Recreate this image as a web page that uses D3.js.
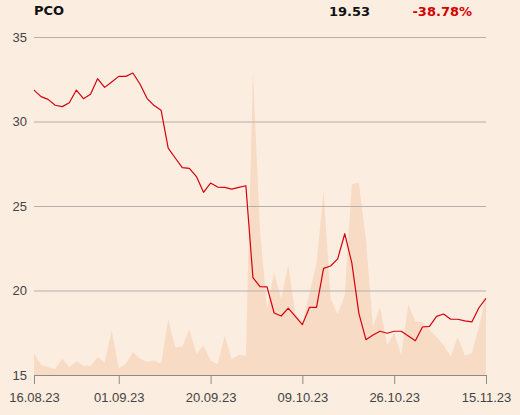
<!DOCTYPE html>
<html><head><meta charset="utf-8">
<script src="https://cdn.jsdelivr.net/npm/d3@7/dist/d3.min.js"></script>
<style>
html,body{margin:0;padding:0;background:#fcede1;}
svg{display:block;font-family:"DejaVu Sans",sans-serif;}
</style></head><body>
<svg id="c" width="520" height="415"></svg>
<script>
const symbol = "PCO";
const lastPrice = "19.53";
const changePct = "-38.78%";
const tickLabels = ["16.08.23","01.09.23","20.09.23","09.10.23","26.10.23","15.11.23"];
const tickIndex = [0,12,25,38,51,64];
const yTicks = [15,20,25,30,35];
const price = [31.86,31.47,31.31,30.96,30.88,31.11,31.86,31.35,31.61,32.53,32.02,32.34,32.67,32.67,32.87,32.22,31.37,30.94,30.66,28.43,27.84,27.27,27.23,26.74,25.81,26.36,26.12,26.10,26.00,26.10,26.20,20.76,20.23,20.21,18.67,18.49,18.96,18.47,17.98,19.00,19.00,21.31,21.45,21.87,23.36,21.63,18.65,17.09,17.37,17.59,17.47,17.59,17.59,17.31,17.03,17.84,17.88,18.47,18.61,18.30,18.30,18.20,18.14,18.98,19.53];
const volume = [6.4,3.0,2.3,1.8,4.9,2.3,4.1,2.7,2.7,5.3,3.8,13.1,2.0,3.3,6.8,4.9,3.9,4.4,3.3,16.5,8.1,8.4,13.5,6.2,8.7,4.4,3.2,11.6,4.7,6.0,5.7,89.6,42.9,19.7,30.4,22.6,32.6,18.3,15.3,24.2,33.0,54.5,22.6,18.0,23.7,56.5,56.9,40.0,14.3,20.2,8.9,12.5,5.9,20.9,15.8,15.6,13.3,11.3,8.9,5.4,11.3,5.8,6.4,14.3,23.2];

const svg = d3.select("#c");
const L=34, R=486, T=37, B=375;
const x = d3.scaleLinear().domain([0, price.length-1]).range([L,R]);
const y = d3.scaleLinear().domain([15,35]).range([B,T]);
const yv = d3.scaleLinear().domain([0,100]).range([B,T]);

// volume area
svg.append("path").datum(volume)
  .attr("fill","#f8dbc5")
  .attr("d", d3.area().x((d,i)=>x(i)).y0(B).y1(d=>yv(d)));

// grid
const yAxis = d3.axisLeft(y).tickValues(yTicks).tickSize(-(R-L)).tickPadding(7);
const gy = svg.append("g").attr("transform",`translate(${L},0)`).call(yAxis);
gy.select(".domain").remove();
gy.selectAll(".tick line").attr("stroke","#b3b0ab").attr("stroke-width",1);
gy.selectAll(".tick text").attr("fill","#444").attr("font-size",13).attr("x",-7).attr("dy","0.32em");
gy.selectAll(".tick").filter(d=>d===15).select("line").remove();

// price line
svg.append("path").datum(price)
  .attr("fill","none").attr("stroke","#d4000c").attr("stroke-width",1.2)
  .attr("stroke-linejoin","round")
  .attr("d", d3.line().x((d,i)=>x(i)).y(d=>y(d)));

// x axis
const xAxis = d3.axisBottom(x).tickValues(tickIndex)
  .tickFormat((d,i)=>tickLabels[i]).tickSize(9).tickSizeOuter(0).tickPadding(9);
const gx = svg.append("g").attr("transform",`translate(0,${B})`).call(xAxis);
gx.select(".domain").attr("stroke","#8c8a87");
gx.selectAll(".tick line").attr("stroke","#8c8a87");
gx.selectAll(".tick text").attr("fill","#444").attr("font-size",13);

// header
svg.append("text").attr("x",34).attr("y",15).attr("font-size",13).attr("font-weight","bold").attr("fill","#111").text(symbol);
svg.append("text").attr("x",370).attr("y",16).attr("text-anchor","end").attr("font-size",13).attr("font-weight","bold").attr("fill","#111").text(lastPrice);
svg.append("text").attr("x",472).attr("y",16).attr("text-anchor","end").attr("font-size",13).attr("font-weight","bold").attr("fill","#d40000").text(changePct);
</script>
</body></html>
